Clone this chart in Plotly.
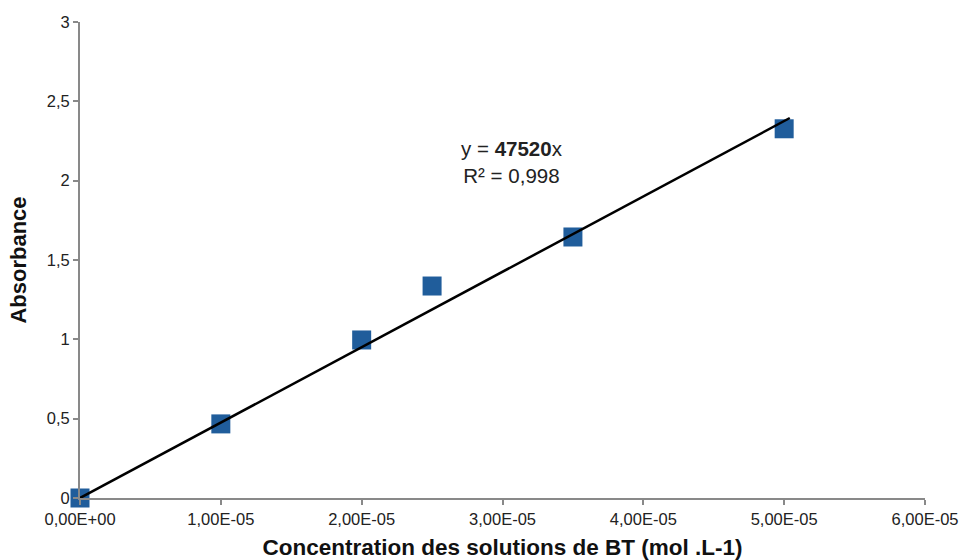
import plotly.graph_objects as go

conc = [0.0, 1.0e-5, 2.0e-5, 2.5e-5, 3.5e-5, 5.0e-5]
absorb = [0.0, 0.467, 0.996, 1.336, 1.645, 2.327]

slope = 47520
fit_x = [0.0, 5.04e-5]
fit_y = [slope * v for v in fit_x]

x_ticks = [0, 1e-5, 2e-5, 3e-5, 4e-5, 5e-5, 6e-5]
x_ticklabels = ["0,00E+00", "1,00E-05", "2,00E-05", "3,00E-05", "4,00E-05", "5,00E-05", "6,00E-05"]
y_ticks = [0, 0.5, 1, 1.5, 2, 2.5, 3]
y_ticklabels = ["0", "0,5", "1", "1,5", "2", "2,5", "3"]

FONT = "Liberation Sans, Arial, sans-serif"

fig = go.Figure()
fig.add_trace(go.Scatter(x=conc, y=absorb, mode="markers",
                         marker=dict(symbol="square", size=19, color="#205D9B"),
                         showlegend=False, cliponaxis=False))
fig.add_trace(go.Scatter(x=fit_x, y=fit_y, mode="lines",
                         line=dict(color="black", width=2.5),
                         showlegend=False, cliponaxis=False))

fig.add_annotation(x=3.07e-5, y=2.115, xref="x", yref="y",
                   text="y = <b>47520</b>x<br>R² = 0,998", showarrow=False,
                   font=dict(family=FONT, size=20.5, color="#222"),
                   align="center")

axis_common = dict(showline=True, linecolor="#898989", linewidth=2,
                   ticks="outside", ticklen=5, tickcolor="#898989", tickwidth=2,
                   showgrid=False, zeroline=False, automargin=False,
                   ticklabeloverflow="allow",
                   tickfont=dict(family=FONT, size=16.5, color="#222"))

fig.update_xaxes(range=[0, 6e-5], tickmode="array", tickvals=x_ticks, ticktext=x_ticklabels,
                 title=dict(text="<b>Concentration des solutions de BT (mol .L-1)</b>",
                            font=dict(family=FONT, size=22.5, color="#111"),
                            standoff=12),
                 **axis_common)
fig.update_yaxes(range=[0, 3], tickmode="array", tickvals=y_ticks, ticktext=y_ticklabels,
                 title=dict(text="<b>Absorbance</b>",
                            font=dict(family=FONT, size=22, color="#111"),
                            standoff=14),
                 **axis_common)

fig.update_layout(width=962, height=560, plot_bgcolor="white", paper_bgcolor="white",
                  margin=dict(l=80, r=37, t=22, b=62, autoexpand=False))

fig.write_html("out.html", config={"displayModeBar": False},
               post_script="document.body.style.margin='0';document.body.style.overflow='hidden';")
